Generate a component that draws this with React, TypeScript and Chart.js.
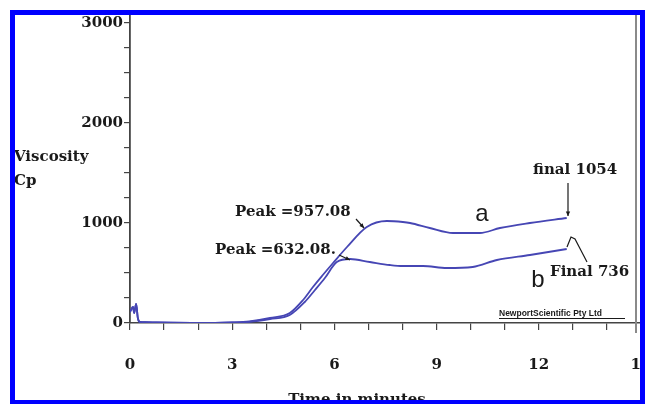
import React, { useEffect, useRef } from "react";
import { Chart, registerables } from "chart.js";

Chart.register(...registerables);

// ---- data (minutes, viscosity cP) ----
const timeA = [0, 0.09, 0.12, 0.18, 0.23, 0.29, 0.45, 0.8, 1.2, 1.8, 2.5, 3.0, 3.5, 4.11, 4.69, 5.08, 5.37, 5.66, 5.96, 6.37, 6.95, 7.54, 8.01, 8.22, 8.8, 9.48, 10.27, 10.86, 11.74, 12.82];
const viscA = [110, 160, 100, 190, 50, 10, 8, 5, 3, 2, 2, 5, 15, 50, 100, 230, 360, 480, 600, 760, 960, 1020, 1010, 1000, 950, 900, 900, 950, 1000, 1050];
const timeB = [0, 0.09, 0.12, 0.18, 0.23, 0.29, 0.45, 0.8, 1.2, 1.8, 2.5, 3.0, 3.5, 4.11, 4.69, 5.13, 5.43, 5.72, 6.07, 6.46, 7.04, 7.63, 8.01, 8.6, 9.3, 10.06, 10.77, 11.74, 12.82];
const viscB = [110, 160, 100, 190, 50, 10, 8, 5, 3, 2, 2, 5, 12, 40, 80, 210, 330, 450, 610, 640, 610, 580, 570, 570, 550, 560, 630, 680, 740];

const xTickLabels = [0, 3, 6, 9, 12, 15];
const yTickLabels = [0, 1000, 2000, 3000];

const FONT = "'DejaVu Serif'";

const decorations = {
  id: "decorations",
  afterDraw(chart: any) {
    const ctx = chart.ctx as CanvasRenderingContext2D;
    ctx.save();
    ctx.fillStyle = "#1a1a1a";
    ctx.textBaseline = "middle";
    ctx.font = `bold 15px ${FONT}`;
    ctx.textAlign = "left";
    ctx.fillText("Viscosity", 14, 157);
    ctx.fillText("Cp", 14, 181);
    ctx.fillText("Peak =957.08", 235, 212);
    ctx.fillText("Peak =632.08.", 215, 250);
    ctx.fillText("final 1054", 533, 170);
    ctx.fillText("Final 736", 550, 272);
    ctx.textAlign = "center";
    ctx.textBaseline = "alphabetic";
    ctx.fillText("Time in minutes", 357, 404);

    ctx.font = "24px 'Liberation Sans'";
    ctx.textBaseline = "middle";
    ctx.fillText("a", 482, 214);
    ctx.fillText("b", 538, 280);

    ctx.font = "bold 8.5px 'Liberation Sans'";
    ctx.textAlign = "left";
    ctx.fillText("NewportScientific Pty Ltd", 499, 314);
    ctx.strokeStyle = "#1a1a1a";
    ctx.lineWidth = 1;
    ctx.beginPath();
    ctx.moveTo(499, 318.5);
    ctx.lineTo(625, 318.5);
    ctx.stroke();

    // arrows
    const arrow = (x1: number, y1: number, x2: number, y2: number) => {
      ctx.beginPath();
      ctx.moveTo(x1, y1);
      ctx.lineTo(x2, y2);
      ctx.stroke();
      const a = Math.atan2(y2 - y1, x2 - x1);
      ctx.beginPath();
      ctx.moveTo(x2, y2);
      ctx.lineTo(x2 - 5 * Math.cos(a - 0.45), y2 - 5 * Math.sin(a - 0.45));
      ctx.lineTo(x2 - 5 * Math.cos(a + 0.45), y2 - 5 * Math.sin(a + 0.45));
      ctx.closePath();
      ctx.fill();
    };
    ctx.lineWidth = 1.2;
    arrow(356, 219, 364, 228);
    arrow(339, 255, 350, 260);
    arrow(568, 183, 568, 216);
    ctx.beginPath();
    ctx.moveTo(567, 247);
    ctx.lineTo(571, 237);
    ctx.lineTo(575, 239);
    ctx.lineTo(587, 262);
    ctx.stroke();

    // frame
    ctx.fillStyle = "#8a8a8a";
    ctx.fillRect(635, 15, 2, 318);
    ctx.fillStyle = "#0000ff";
    ctx.fillRect(10, 10, 635, 5);
    ctx.fillRect(10, 10, 5, 394);
    ctx.fillRect(640, 10, 5, 394);
    ctx.fillRect(10, 400, 635, 4);
    ctx.restore();
  },
};

export default function App() {
  const ref = useRef<HTMLCanvasElement | null>(null);
  useEffect(() => {
    if (!ref.current) return;
    const lineColor = "#4646b4";
    const chart = new Chart(ref.current, {
      type: "line",
      data: {
        datasets: [
          {
            label: "a",
            data: timeA.map((t, i) => ({ x: t, y: viscA[i] })),
            borderColor: lineColor,
            borderWidth: 1.8,
            pointRadius: 0,
            tension: 0.3,
            cubicInterpolationMode: "monotone",
          },
          {
            label: "b",
            data: timeB.map((t, i) => ({ x: t, y: viscB[i] })),
            borderColor: lineColor,
            borderWidth: 1.8,
            pointRadius: 0,
            tension: 0.3,
            cubicInterpolationMode: "monotone",
          },
        ],
      },
      options: {
        responsive: false,
        animation: false,
        layout: { padding: { top: 15, right: 4, left: 0, bottom: 0 } },
        plugins: { legend: { display: false }, tooltip: { enabled: false } },
        scales: {
          x: {
            type: "linear",
            min: 0,
            max: 15,
            afterFit: (s: any) => {
              s.height = 81;
              s.paddingLeft = 0;
              s.paddingRight = 0;
            },
            border: { color: "#444", width: 1.5 },
            grid: { drawOnChartArea: false, drawTicks: true, tickLength: 7, color: "#444", lineWidth: 1.2 },
            ticks: {
              stepSize: 1,
              autoSkip: false,
              maxRotation: 0,
              padding: 26,
              color: "#1a1a1a",
              font: { family: FONT, size: 15, weight: "bold" },
              callback: (v: any) => (xTickLabels.includes(Number(v)) ? String(v) : ""),
            },
          },
          y: {
            min: 0,
            max: 3080,
            afterFit: (s: any) => {
              s.width = 130;
              s.paddingTop = 0;
              s.paddingBottom = 0;
            },
            border: { color: "#444", width: 1.8 },
            grid: { drawOnChartArea: false, drawTicks: true, tickLength: 6, color: "#444", lineWidth: 1.2 },
            ticks: {
              stepSize: 250,
              includeBounds: false,
              autoSkip: false,
              padding: 1,
              color: "#1a1a1a",
              font: { family: FONT, size: 15, weight: "bold" },
              callback: (v: any) => (yTickLabels.includes(Number(v)) ? String(v) : ""),
            },
          },
        },
      } as any,
      plugins: [decorations],
    });
    return () => chart.destroy();
  }, []);
  return (
    <div style={{ position: "fixed", left: 0, top: 0, width: 645, height: 404, background: "#fff" }}>
      <canvas ref={ref} width={645} height={404} style={{ display: "block" }} />
    </div>
  );
}
